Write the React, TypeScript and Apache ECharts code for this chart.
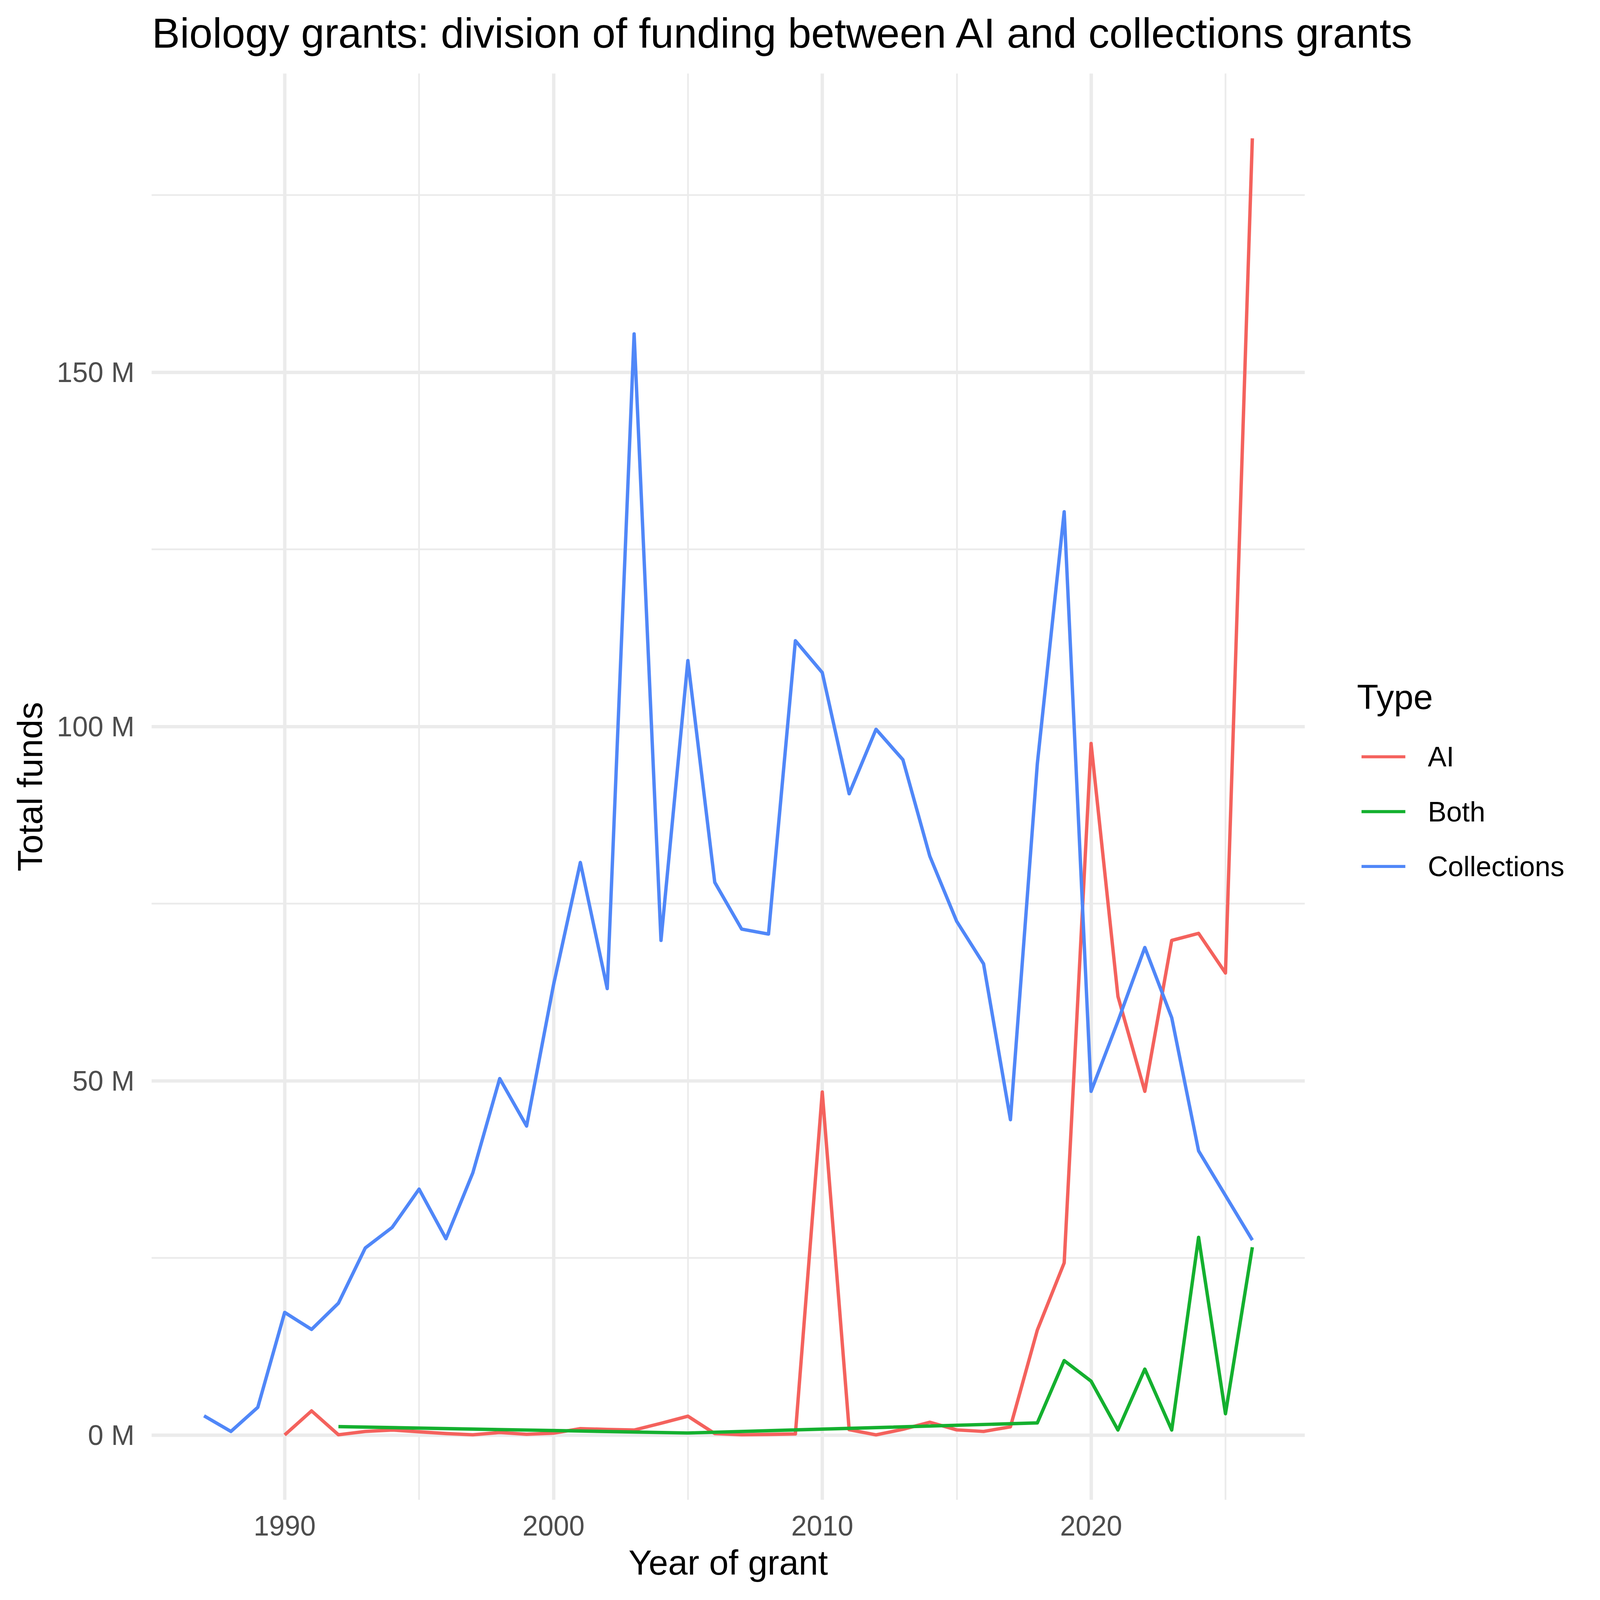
import React, { useEffect, useRef } from "react";
import * as echarts from "echarts";

// ---- data (millions) ----
const aiYears = [1990, 1991, 1992, 1993, 1994, 1995, 1996, 1997, 1998, 1999, 2000, 2001, 2002, 2003, 2004, 2005, 2006, 2007, 2008, 2009, 2010, 2011, 2012, 2013, 2014, 2015, 2016, 2017, 2018, 2019, 2020, 2021, 2022, 2023, 2024, 2025, 2026];
const aiValues = [0, 3.4, 0.03, 0.5, 0.7, 0.45, 0.2, 0.03, 0.35, 0.1, 0.25, 0.9, 0.78, 0.7, 1.65, 2.65, 0.2, 0.03, 0.08, 0.15, 48.4, 0.75, 0.02, 0.8, 1.8, 0.72, 0.5, 1.15, 14.8, 24.3, 97.6, 61.9, 48.5, 69.8, 70.8, 65.2, 183.0];

const bothYears = [1992, 2005, 2018, 2019, 2020, 2021, 2022, 2023, 2024, 2025, 2026];
const bothValues = [1.18, 0.28, 1.7, 10.5, 7.6, 0.7, 9.3, 0.7, 27.9, 3.0, 26.5];

const collYears = [1987, 1988, 1989, 1990, 1991, 1992, 1993, 1994, 1995, 1996, 1997, 1998, 1999, 2000, 2001, 2002, 2003, 2004, 2005, 2006, 2007, 2008, 2009, 2010, 2011, 2012, 2013, 2014, 2015, 2016, 2017, 2018, 2019, 2020, 2021, 2022, 2023, 2024, 2025, 2026];
const collValues = [2.7, 0.5, 3.9, 17.3, 14.9, 18.6, 26.4, 29.3, 34.7, 27.7, 37.0, 50.3, 43.6, 63.5, 80.8, 63.0, 155.4, 69.8, 109.3, 78.0, 71.4, 70.7, 112.1, 107.6, 90.5, 99.6, 95.3, 81.7, 72.5, 66.5, 44.5, 94.7, 130.3, 48.5, 58.4, 68.8, 58.9, 40.1, 33.8, 27.5];

const seriesNames = ["AI", "Both", "Collections"];
const seriesColors = ["#F4625D", "#14B02F", "#5087F8"];

const xMajorTicks = [1990, 2000, 2010, 2020];
const xMinorTicks = [1995, 2005, 2015, 2025];
const yMajorTicks = [0, 50, 100, 150];
const yMinorTicks = [25, 75, 125, 175];

const FONT = "'Liberation Sans', Arial, Helvetica, sans-serif";
const VIEW_SCALE = 4096 / 4200;

function pairs(xs: number[], ys: number[]) {
  return xs.map((x, i) => [x, ys[i]]);
}

export default function App() {
  const ref = useRef<HTMLDivElement>(null);

  useEffect(() => {
    document.body.style.margin = "0";
    if (!ref.current) return;
    const chart = echarts.init(ref.current, null, { renderer: "svg" });

    const allX = [...aiYears, ...bothYears, ...collYears];
    const allY = [...aiValues, ...bothValues, ...collValues];
    const xLo = Math.min(...allX), xHi = Math.max(...allX);
    const yLo = Math.min(...allY), yHi = Math.max(...allY);
    const xMin = xLo - 0.05 * (xHi - xLo), xMax = xHi + 0.05 * (xHi - xLo);
    const yMin = yLo - 0.05 * (yHi - yLo), yMax = yHi + 0.05 * (yHi - yLo);

    const gridColor = "#EBEBEB";
    const MAJOR = 8.9, MINOR = 4.45;

    const datasets = [pairs(aiYears, aiValues), pairs(bothYears, bothValues), pairs(collYears, collValues)];

    chart.setOption({
      animation: false,
      backgroundColor: "#ffffff",
      textStyle: { fontFamily: FONT },
      title: [
        {
          text: "Biology grants: division of funding between AI and collections grants",
          left: 399,
          top: 32,
          padding: 0,
          textStyle: { fontSize: 110, lineHeight: 110, fontWeight: "normal", color: "#000000", fontFamily: FONT },
        },
        {
          text: "Type",
          left: 3562,
          top: 1783,
          padding: 0,
          textStyle: { fontSize: 92, lineHeight: 92, fontWeight: "normal", color: "#000000", fontFamily: FONT },
        },
      ],
      legend: {
        orient: "vertical",
        left: 3574,
        top: 1950,
        padding: 0,
        itemWidth: 115,
        itemHeight: 8,
        itemGap: 71,
        icon: "rect",
        selectedMode: false,
        data: seriesNames,
        textStyle: { fontSize: 73.3, lineHeight: 73, color: "#000000", fontFamily: FONT, padding: [0, 0, 0, 54] },
      },
      grid: { left: 398, right: 775, top: 193, bottom: 263, containLabel: false, outerBoundsMode: "none" },
      xAxis: [
        {
          type: "value",
          min: xMin,
          max: xMax,
          axisLine: { show: false },
          axisTick: { show: false, customValues: xMajorTicks },
          axisLabel: {
            customValues: xMajorTicks,
            margin: 32,
            fontSize: 73.3,
            color: "#4D4D4D",
            fontFamily: FONT,
            formatter: (v: number) => String(v),
          },
          splitLine: { show: true, lineStyle: { color: gridColor, width: MAJOR } },
          name: "Year of grant",
          nameLocation: "middle",
          nameGap: 119,
          nameTextStyle: { fontSize: 92, color: "#000000", fontFamily: FONT, lineHeight: 92 },
        },
        {
          type: "value",
          min: xMin,
          max: xMax,
          position: "bottom",
          axisLine: { show: false },
          axisTick: { show: false, customValues: xMinorTicks },
          axisLabel: { show: false },
          splitLine: { show: true, lineStyle: { color: gridColor, width: MINOR } },
        },
      ],
      yAxis: [
        {
          type: "value",
          min: yMin,
          max: yMax,
          axisLine: { show: false },
          axisTick: { show: false, customValues: yMajorTicks },
          axisLabel: {
            customValues: yMajorTicks,
            margin: 45,
            fontSize: 73.3,
            color: "#4D4D4D",
            fontFamily: FONT,
            formatter: (v: number) => `${v} M`,
          },
          splitLine: { show: true, lineStyle: { color: gridColor, width: MAJOR } },
          name: "Total funds",
          nameLocation: "middle",
          nameGap: 273,
          nameTextStyle: { fontSize: 92, color: "#000000", fontFamily: FONT, lineHeight: 92 },
        },
        {
          type: "value",
          min: yMin,
          max: yMax,
          position: "left",
          axisLine: { show: false },
          axisTick: { show: false, customValues: yMinorTicks },
          axisLabel: { show: false },
          splitLine: { show: true, lineStyle: { color: gridColor, width: MINOR } },
        },
      ],
      series: seriesNames.map((name, i) => ({
        name,
        type: "line",
        xAxisIndex: 0,
        yAxisIndex: 0,
        data: datasets[i],
        showSymbol: false,
        symbol: "none",
        color: seriesColors[i],
        itemStyle: { color: seriesColors[i] },
        lineStyle: { color: seriesColors[i], width: 8.9, cap: "butt", join: "round" },
        emphasis: { disabled: true },
        silent: true,
        z: 2 + i,
      })),
    });

    return () => chart.dispose();
  }, []);

  return (
    <div
      style={{
        position: "absolute",
        left: 0,
        top: 0,
        width: 4200,
        height: 4200,
        transform: `scale(${VIEW_SCALE})`,
        transformOrigin: "0 0",
      }}
    >
      <div ref={ref} style={{ width: 4200, height: 4200 }} />
    </div>
  );
}
